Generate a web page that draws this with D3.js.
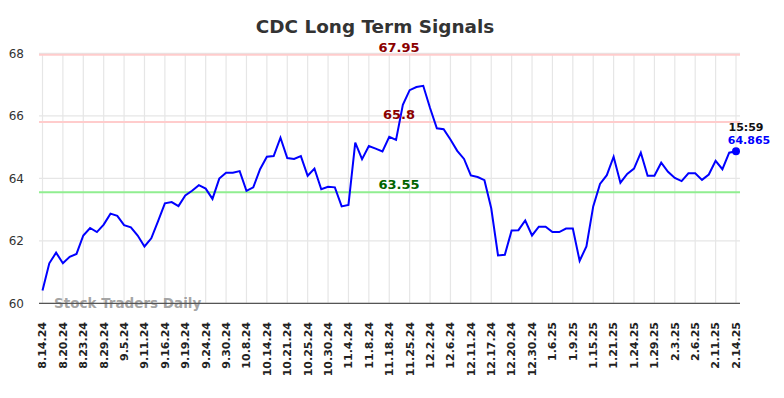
<!DOCTYPE html>
<html>
<head>
<meta charset="utf-8">
<script src="https://cdn.jsdelivr.net/npm/d3@7"></script>
<style>
  body { margin: 0; background: #fff; }
  svg { display: block; font-family: "DejaVu Sans", sans-serif; }
</style>
</head>
<body>
<div id="chart"></div>
<script>
// data ----------------------------------------------------------------
const tickLabels = ['8.14.24', '8.20.24', '8.23.24', '8.29.24', '9.5.24', '9.11.24', '9.16.24', '9.19.24',
  '9.24.24', '9.30.24', '10.8.24', '10.14.24', '10.21.24', '10.25.24', '10.30.24', '11.4.24', '11.8.24',
  '11.18.24', '11.25.24', '12.2.24', '12.6.24', '12.11.24', '12.17.24', '12.20.24', '12.30.24', '1.6.25',
  '1.9.25', '1.15.25', '1.21.25', '1.24.25', '1.29.25', '2.3.25', '2.6.25', '2.11.25', '2.14.25'];
const values = [
  60.41, 61.28, 61.62, 61.28, 61.49, 61.58, 62.17, 62.41, 62.28, 62.52,
  62.87, 62.80, 62.50, 62.43, 62.17, 61.82, 62.08, 62.63, 63.20, 63.24,
  63.11, 63.45, 63.60, 63.78, 63.67, 63.34, 63.99, 64.18, 64.18, 64.23,
  63.60, 63.71, 64.29, 64.69, 64.71, 65.30, 64.65, 64.62, 64.71, 64.08,
  64.31, 63.65, 63.73, 63.71, 63.10, 63.15, 65.14, 64.61, 65.03, 64.95,
  64.86, 65.33, 65.23, 66.35, 66.82, 66.92, 66.96, 66.25, 65.60, 65.57,
  65.24, 64.88, 64.62, 64.09, 64.04, 63.94, 63.04, 61.53, 61.55, 62.33,
  62.34, 62.65, 62.17, 62.45, 62.45, 62.28, 62.28, 62.39, 62.39, 61.36,
  61.82, 63.10, 63.82, 64.10, 64.69, 63.86, 64.14, 64.31, 64.82, 64.08,
  64.08, 64.50, 64.21, 64.01, 63.91, 64.16, 64.16, 63.95, 64.12, 64.56,
  64.29, 64.82, 64.865];
const yTicks = [60, 62, 64, 66, 68];
const levels = [
  {value: 67.95, label: '67.95', kind: 'resist'},
  {value: 65.8, label: '65.8', kind: 'resist'},
  {value: 63.55, label: '63.55', kind: 'support'}
];
const lastTime = '15:59';
const ticksEvery = 3;
// ---------------------------------------------------------------------
const width = 784;
const height = 398;
const left = 39;
const right = 740;

const svg = d3.select('#chart').append('svg')
  .attr('width', width)
  .attr('height', height);

const x = d3.scaleLinear()
  .domain([0, values.length - 1])
  .range([42.5, 736]);
const y = d3.scaleLinear()
  .domain([60, 68])
  .range([303.3, 53.3]);

// grid
const grid = svg.append('g');
grid.selectAll('line.h')
  .data(yTicks)
  .enter().append('line')
  .attr('x1', left).attr('x2', right)
  .attr('y1', d => y(d)).attr('y2', d => y(d))
  .attr('stroke', '#e6e6e6')
  .attr('stroke-width', 1.2);
grid.selectAll('line.v')
  .data(tickLabels)
  .enter().append('line')
  .attr('x1', (d, i) => x(i * ticksEvery)).attr('x2', (d, i) => x(i * ticksEvery))
  .attr('y1', y(68)).attr('y2', y(60))
  .attr('stroke', '#e6e6e6')
  .attr('stroke-width', 1.2);

// y labels
svg.append('g')
  .selectAll('text')
  .data(yTicks)
  .enter().append('text')
  .attr('x', 24)
  .attr('y', d => y(d))
  .attr('dy', '0.35em')
  .attr('text-anchor', 'end')
  .attr('font-size', '12px')
  .attr('fill', '#333')
  .text(d => d);

// x labels
svg.append('g')
  .selectAll('text')
  .data(tickLabels)
  .enter().append('text')
  .attr('transform', (d, i) => 'translate(' + x(i * ticksEvery) + ',322) rotate(-90)')
  .attr('dy', '0.35em')
  .attr('text-anchor', 'end')
  .attr('font-size', '11px')
  .attr('font-weight', 'bold')
  .attr('fill', '#222')
  .text(d => d);

// level lines
svg.append('g')
  .selectAll('line')
  .data(levels)
  .enter().append('line')
  .attr('x1', left).attr('x2', right)
  .attr('y1', d => y(d.value)).attr('y2', d => y(d.value))
  .attr('stroke', d => d.kind === 'resist' ? '#ffcccc' : '#90ee90')
  .attr('stroke-width', 2);

// watermark
svg.append('text')
  .attr('x', 54)
  .attr('y', 308)
  .attr('font-size', '13.5px')
  .attr('font-weight', 'bold')
  .attr('fill', '#999')
  .attr('fill-opacity', 0.9)
  .text('Stock Traders Daily');

// bottom axis line
svg.append('line')
  .attr('x1', left).attr('x2', right)
  .attr('y1', y(60)).attr('y2', y(60))
  .attr('stroke', '#555')
  .attr('stroke-width', 1.3);

// price line
const line = d3.line()
  .x((d, i) => x(i))
  .y(d => y(d));
svg.append('path')
  .datum(values)
  .attr('d', line)
  .attr('fill', 'none')
  .attr('stroke', '#0000ff')
  .attr('stroke-width', 2);

// level labels
svg.append('g')
  .selectAll('text')
  .data(levels)
  .enter().append('text')
  .attr('x', 399)
  .attr('y', d => y(d.value) - 3)
  .attr('text-anchor', 'middle')
  .attr('font-size', '13px')
  .attr('font-weight', 'bold')
  .attr('fill', d => d.kind === 'resist' ? '#8b0000' : '#006400')
  .text(d => d.label);

// last point
const lastI = values.length - 1;
svg.append('circle')
  .attr('cx', x(lastI))
  .attr('cy', y(values[lastI]))
  .attr('r', 4)
  .attr('fill', '#0000ff');
svg.append('text')
  .attr('x', x(lastI) + 10)
  .attr('y', y(values[lastI]) - 20)
  .attr('text-anchor', 'middle')
  .attr('font-size', '11px')
  .attr('font-weight', 'bold')
  .attr('fill', '#111')
  .text(lastTime);
svg.append('text')
  .attr('x', x(lastI) + 13)
  .attr('y', y(values[lastI]) - 7)
  .attr('text-anchor', 'middle')
  .attr('font-size', '11px')
  .attr('font-weight', 'bold')
  .attr('fill', '#0000ff')
  .text(values[lastI]);

// title
svg.append('text')
  .attr('x', 375)
  .attr('y', 33)
  .attr('text-anchor', 'middle')
  .attr('font-size', '18.4px')
  .attr('font-weight', 'bold')
  .attr('fill', '#333')
  .text('CDC Long Term Signals');
</script>
</body>
</html>
